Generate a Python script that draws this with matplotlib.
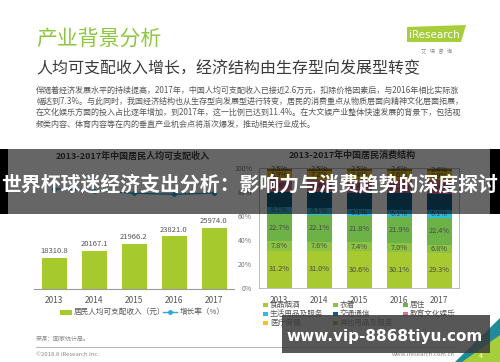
import matplotlib
matplotlib.use("Agg")
import matplotlib.pyplot as plt
from matplotlib.patches import Rectangle, Polygon
from matplotlib.lines import Line2D

plt.rcParams['font.family'] = ['Noto Sans CJK SC', 'DejaVu Sans']

W, H = 500, 362
def fx(x): return x / W
def fy(y): return 1 - y / H

# ---------------- data ----------------
years = ['2013', '2014', '2015', '2016', '2017']
income = [18310.8, 20167.1, 21966.2, 23821.0, 25974.0]
growth = [10.9, 10.1, 8.9, 8.4, 9.0]

categories = ['食品烟酒', '衣着', '居住', '生活用品及服务', '交通通信',
              '教育文化娱乐', '医疗保健', '其他用品及服务']
food = [31.2, 31.0, 30.6, 30.1, 29.3]
clothing = [7.8, 7.6, 7.4, 7.0, 6.8]
housing = [22.7, 22.1, 21.8, 21.9, 22.4]
household = [6.1, 6.1, 6.1, 6.1, 6.1]
transport = [12.3, 12.9, 13.3, 13.7, 13.6]
education = [10.6, 10.6, 11.0, 11.2, 11.4]
medical = [6.9, 7.2, 7.4, 7.6, 7.9]
other = [2.5, 2.5, 2.5, 2.4, 2.4]
shares = [food, clothing, housing, household, transport, education, medical, other]
colors = ['#a8c92f', '#8cc441', '#6cb247', '#2bbbe3', '#0a6187',
          '#d9708c', '#f1c41a', '#9a7a1c']

fig = plt.figure(figsize=(5, 3.62), dpi=100)
fig.patch.set_facecolor('white')

# ---------------- header ----------------
fig.text(fx(36), fy(40), '产业背景分析', fontsize=15, color='#8dc63f', va='center', ha='left')
fig.text(fx(36), fy(69), '人均可支配收入增长，经济结构由生存型向发展型转变',
         fontsize=11.5, color='#3a3a3a', va='center', ha='left')
fig.add_artist(Polygon([(fx(407), fy(27)), (fx(466), fy(25)), (fx(461), fy(42)), (fx(407), fy(42))],
                       closed=True, facecolor='#a6cd3a', edgecolor='none', transform=fig.transFigure))
fig.text(fx(409), fy(34.5), 'iResearch', fontsize=7.5, color='white', va='center', ha='left',
         family=['DejaVu Sans'])
fig.text(fx(437), fy(51), '艾   瑞   咨   询', fontsize=3.8, color='#888888', va='center', ha='center')

para = ['伴随着经济发展水平的持续提高，2017年，中国人均可支配收入已接近2.6万元，扣除价格因素后，与2016年相比实际涨',
        '幅达到7.3%。与此同时，我国经济结构也从生存型向发展型进行转变，居民的消费重点从物质层面向精神文化层面拓展，',
        '在文化娱乐方面的投入占比逐年增加，到2017年，这一比例已达到11.4%。在大文娱产业整体快速发展的背景下，包括视',
        '频类内容、体育内容等在内的垂直产业机会点将渐次爆发，推动相关行业成长。']
for i, line in enumerate(para):
    fig.text(fx(36), fy(90 + i * 11.3), line, fontsize=5.8, color='#555555', va='center', ha='left')

# ---------------- left chart ----------------
fig.text(fx(133), fy(156), '2013-2017年中国居民人均可支配收入', fontsize=6.5, fontweight='bold',
         color='#444444', va='center', ha='center')
ax1 = fig.add_axes([fx(34), fy(289), 200 / W, 120 / H])
xs = list(range(len(years)))
bars = ax1.bar(xs, income, width=0.625, color='#a6c92e', zorder=2)
ax1.bar_label(bars, fmt='%.1f', padding=2, fontsize=5.5, color='#555555')
ax1.set_xlim(-0.5, 4.5)
ax1.set_ylim(10400, 41000)
ax1.set_xticks(xs)
ax1.set_xticklabels(years, fontsize=6, color='#555555')
ax1.tick_params(axis='x', length=0, pad=5)
ax1.set_yticks([])
for s in ['left', 'right', 'top']:
    ax1.spines[s].set_visible(False)
ax1.spines['bottom'].set_color('#999999')
ax1.patch.set_alpha(0)
ax1b = ax1.twinx()
ax1b.plot(xs, growth, color='#2ea7e0', marker='o', markersize=2.5, linewidth=1)
ax1b.set_ylim(-35, 20)
ax1b.set_yticks([])
for s in ax1b.spines.values():
    s.set_visible(False)

# left legend
fig.add_artist(Rectangle((fx(60), fy(314.5)), 12 / W, 5 / H, facecolor='#a6c92e',
                         edgecolor='none', transform=fig.transFigure))
fig.text(fx(74), fy(312), '居民人均可支配收入（元）', fontsize=5.5, color='#555555', va='center', ha='left')
fig.add_artist(Line2D([fx(163), fx(177)], [fy(312), fy(312)], color='#2ea7e0', linewidth=1,
                      transform=fig.transFigure))
fig.add_artist(Line2D([fx(170)], [fy(312)], color='#2ea7e0', marker='o', markersize=2.5,
                      transform=fig.transFigure))
fig.text(fx(180), fy(312), '增长率（%）', fontsize=5.5, color='#555555', va='center', ha='left')

# ---------------- right chart ----------------
fig.text(fx(352), fy(155), '2013-2017年中国居民消费结构', fontsize=6.5, fontweight='bold',
         color='#444444', va='center', ha='center')
ax2 = fig.add_axes([fx(259), fy(288), 200 / W, 120 / H])
bottom = [0.0] * len(years)
for vals, col in zip(shares, colors):
    b = ax2.bar(xs, vals, bottom=bottom, width=0.625, color=col, zorder=2)
    ax2.bar_label(b, labels=[f'{v:.1f}%' for v in vals], label_type='center',
                  fontsize=5.3, color='#4a4a4a')
    bottom = [bt + v for bt, v in zip(bottom, vals)]
ax2.set_xlim(-0.5, 4.5)
ax2.set_ylim(0, 100)
ax2.set_xticks(xs)
ax2.set_xticklabels(years, fontsize=6, color='#555555')
ax2.set_yticks([0, 20, 40, 60, 80, 100])
ax2.set_yticklabels(['0%', '20%', '40%', '60%', '80%', '100%'], fontsize=5, color='#777777')
ax2.tick_params(axis='both', length=0)
ax2.tick_params(axis='x', pad=6)
ax2.tick_params(axis='y', pad=5)
for s in ax2.spines.values():
    s.set_color('#bbbbbb')
    s.set_linewidth(0.7)

# right legend (row-major, 3 columns)
col_x = [263, 333, 403]
row_y = [305, 314, 323]
for i, (name, col) in enumerate(zip(categories, colors)):
    r, c = divmod(i, 3)
    fig.add_artist(Rectangle((fx(col_x[c]), fy(row_y[r] + 2.2)), 4.5 / W, 4.5 / H, facecolor=col,
                             edgecolor='none', transform=fig.transFigure))
    fig.text(fx(col_x[c] + 7), fy(row_y[r]), name, fontsize=5.5, color='#555555', va='center', ha='left')

# ---------------- footer ----------------
fig.text(fx(36), fy(339), '来源：国家统计局。', fontsize=4.3, color='#888888', va='center', ha='left')
fig.add_artist(Line2D([fx(36), fx(456)], [fy(347), fy(347)], color='#aaaaaa', linewidth=0.6,
                      transform=fig.transFigure))
fig.text(fx(36), fy(354), '©2018.8 iResearch Inc.', fontsize=4.3, color='#888888', va='center', ha='left')
fig.text(fx(455), fy(354), 'www.iresearch.com.cn', fontsize=4.3, color='#888888', va='center', ha='right')
fig.add_artist(Polygon([(fx(455), fy(362)), (fx(500), fy(362)), (fx(500), fy(318))], closed=True,
                       facecolor='#1f8a9a', edgecolor='none', transform=fig.transFigure))
fig.add_artist(Polygon([(fx(462), fy(362)), (fx(500), fy(362)), (fx(500), fy(335))], closed=True,
                       facecolor='#a6cd3a', edgecolor='none', transform=fig.transFigure))
fig.text(fx(481), fy(356), '4', fontsize=5, color='white', va='center', ha='center')

# ---------------- overlays ----------------
fig.add_artist(Rectangle((0, fy(214)), 1, 65 / H, facecolor='black', alpha=0.6, edgecolor='none',
                         transform=fig.transFigure, zorder=10))
fig.add_artist(Rectangle((0, fy(214)), 8 / W, 65 / H, facecolor='black', edgecolor='none',
                         transform=fig.transFigure, zorder=10))
fig.add_artist(Rectangle((fx(490), fy(214)), 10 / W, 65 / H, facecolor='black', edgecolor='none',
                         transform=fig.transFigure, zorder=10))
fig.text(0.5, fy(184), '世界杯球迷经济支出分析：影响力与消费趋势的深度探讨', fontsize=14.3,
         fontweight='bold', color='white', va='center', ha='center', zorder=11)

fig.add_artist(Rectangle((fx(282), fy(353)), 208 / W, 38 / H, facecolor='#3a3a3a', alpha=0.85,
                         edgecolor='none', transform=fig.transFigure, zorder=10))
fig.text(fx(385), fy(336), 'www.vip-8868tiyu.com', fontsize=11, fontweight='bold', color='white',
         va='center', ha='center', family=['DejaVu Sans'], zorder=11)

fig.savefig('out.png', dpi=100, facecolor='white')
